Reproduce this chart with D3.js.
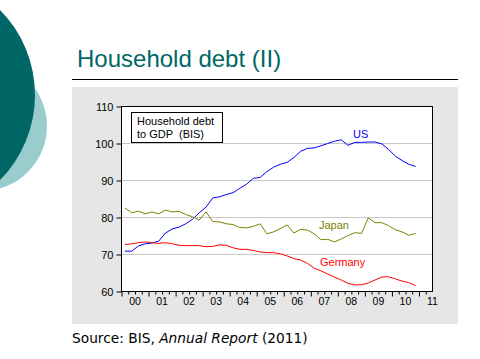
<!DOCTYPE html>
<html>
<head>
<meta charset="utf-8">
<script src="https://cdn.jsdelivr.net/npm/d3@7"></script>
<style>
  html, body { margin: 0; padding: 0; background: #ffffff; }
  svg { display: block; }
</style>
</head>
<body>
<svg id="chart" width="480" height="359"></svg>
<script>
// ---------------- DATA ----------------
const quarters = [
  "2000Q1","2000Q2","2000Q3","2000Q4","2001Q1","2001Q2","2001Q3","2001Q4",
  "2002Q1","2002Q2","2002Q3","2002Q4","2003Q1","2003Q2","2003Q3","2003Q4",
  "2004Q1","2004Q2","2004Q3","2004Q4","2005Q1","2005Q2","2005Q3","2005Q4",
  "2006Q1","2006Q2","2006Q3","2006Q4","2007Q1","2007Q2","2007Q3","2007Q4",
  "2008Q1","2008Q2","2008Q3","2008Q4","2009Q1","2009Q2","2009Q3","2009Q4",
  "2010Q1","2010Q2","2010Q3","2010Q4"
];
const usValues = [
  70.9, 70.9, 72.3, 72.9, 73.1, 73.6, 75.8, 76.9, 77.4, 78.3, 79.5, 81.3,
  82.8, 85.3, 85.6, 86.2, 86.7, 87.9, 89.0, 90.6, 90.8, 92.4, 93.6, 94.4,
  94.9, 96.2, 97.9, 98.7, 98.8, 99.4, 100.0, 100.6, 101.0, 99.5, 100.3, 100.3,
  100.4, 100.4, 99.9, 98.4, 96.6, 95.4, 94.4, 93.8
];
const japanValues = [
  82.6, 81.3, 81.7, 81.0, 81.5, 81.0, 82.0, 81.5, 81.7, 80.8, 80.2, 79.3,
  81.5, 78.9, 78.8, 78.3, 78.1, 77.3, 77.2, 77.6, 78.3, 75.6, 76.1, 77.0,
  78.0, 75.8, 76.8, 76.6, 75.6, 74.0, 74.1, 73.4, 74.2, 75.1, 75.9, 75.7,
  79.9, 78.6, 78.6, 77.8, 76.7, 76.1, 75.2, 75.7
];
const germanyValues = [
  72.7, 72.9, 73.2, 73.4, 73.2, 73.0, 73.2, 72.9, 72.5, 72.4, 72.4, 72.4,
  72.1, 72.2, 72.6, 72.5, 71.8, 71.4, 71.4, 71.1, 70.7, 70.5, 70.5, 70.2,
  69.6, 68.9, 68.5, 67.6, 66.3, 65.6, 64.7, 63.9, 63.1, 62.2, 61.8, 61.8,
  62.3, 63.1, 63.9, 64.0, 63.4, 62.8, 62.4, 61.6
];
const yTicks = [60, 70, 80, 90, 100, 110];
const yearLabels = ["00","01","02","03","04","05","06","07","08","09","10","11"];
const years = [2000,2001,2002,2003,2004,2005,2006,2007,2008,2009,2010,2011];
const seriesNames = ["US", "Japan", "Germany"];
const titleText = "Household debt (II)";
const legendLines = ["Household debt", "to GDP  (BIS)"];

// ---------------- LAYOUT ----------------
const svg = d3.select("#chart");
const teal = "#006666";
const FONT = "'Liberation Sans', Arial, sans-serif";

// decoration circles
svg.append("circle").attr("cx", -18).attr("cy", 126).attr("r", 65).attr("fill", "#99cccc");
svg.append("circle").attr("cx", -86).attr("cy", 95).attr("r", 121).attr("fill", teal);

// title
svg.append("text").attr("x", 77).attr("y", 67)
  .attr("font-family", FONT).attr("font-size", 24).attr("fill", teal)
  .text(titleText);
svg.append("line").attr("x1", 72).attr("x2", 458).attr("y1", 79.5).attr("y2", 79.5)
  .attr("stroke", "#000").attr("stroke-width", 1);

// gray panel
svg.append("rect").attr("x", 72).attr("y", 87).attr("width", 386).attr("height", 237)
  .attr("fill", "#e6e6e6");

// scales
const x = d3.scaleLinear().domain([2000, 2011.5]).range([121.5, 432.5]);
const y = d3.scaleLinear().domain([60, 110]).range([291.5, 106.5]);
const tOf = q => +q.slice(0, 4) + (+q.slice(5) - 0.5) / 4;

// plot background
svg.append("rect").attr("x", x(2000)).attr("y", y(110))
  .attr("width", x(2011.5) - x(2000)).attr("height", y(60) - y(110))
  .attr("fill", "#fff");

// grid
svg.append("g").selectAll("line").data(yTicks.filter(v => v > 60 && v < 110)).join("line")
  .attr("x1", x(2000)).attr("x2", x(2011.5))
  .attr("y1", d => y(d)).attr("y2", d => y(d))
  .attr("stroke", "#c8c8c8").attr("stroke-width", 1);

// lines
const line = d3.line().x((d, i) => x(tOf(quarters[i]))).y(d => y(d));
const series = [
  { name: seriesNames[0], values: usValues, color: "#0000ff", lx: 2008.56, ly: 101.6 },
  { name: seriesNames[1], values: japanValues, color: "#808000", lx: 2007.30, ly: 76.8 },
  { name: seriesNames[2], values: germanyValues, color: "#ff0000", lx: 2007.34, ly: 66.8 }
];
series.forEach(s => {
  svg.append("path").datum(s.values).attr("d", line)
    .attr("fill", "none").attr("stroke", s.color).attr("stroke-width", 1);
  svg.append("text").attr("x", x(s.lx)).attr("y", y(s.ly))
    .attr("font-family", FONT).attr("font-size", 11).attr("fill", s.color)
    .text(s.name);
});

// frame
svg.append("rect").attr("x", x(2000)).attr("y", y(110))
  .attr("width", x(2011.5) - x(2000)).attr("height", y(60) - y(110))
  .attr("fill", "none").attr("stroke", "#000").attr("stroke-width", 1);

// y axis
const yAxis = svg.append("g").attr("transform", `translate(${x(2000)},0)`)
  .call(d3.axisLeft(y).tickValues(yTicks).tickSize(5).tickPadding(3).tickFormat(d3.format("d")));
yAxis.select(".domain").remove();
yAxis.selectAll("text").attr("font-family", FONT).attr("font-size", 11).attr("fill", "#000");
yAxis.selectAll("line").attr("stroke", "#000");

// x axis: minor quarter ticks and major year ticks
const quarterTicks = [];
years.forEach(yr => { [0.25, 0.5, 0.75].forEach(f => { if (yr + f < 2011.5) quarterTicks.push(yr + f); }); });
const xMinor = svg.append("g").attr("transform", `translate(0,${y(60)})`)
  .call(d3.axisBottom(x).tickValues(quarterTicks).tickSize(3).tickFormat(""));
xMinor.select(".domain").remove();
xMinor.selectAll("line").attr("stroke", "#000");
const xMajor = svg.append("g").attr("transform", `translate(0,${y(60)})`)
  .call(d3.axisBottom(x).tickValues(years).tickSize(5).tickFormat(""));
xMajor.select(".domain").remove();
xMajor.selectAll("line").attr("stroke", "#000");

svg.append("g").selectAll("text").data(years).join("text")
  .attr("x", d => d + 0.5 <= 2011.5 ? x(d + 0.5) : x(2011.5) - 1)
  .attr("text-anchor", d => d + 0.5 <= 2011.5 ? "middle" : "end")
  .attr("y", 305)
  .attr("font-family", FONT).attr("font-size", 10.5).attr("fill", "#000")
  .text((d, i) => yearLabels[i]);

// legend box
svg.append("rect").attr("x", 131.5).attr("y", 112.5).attr("width", 91).attr("height", 30)
  .attr("fill", "#fff").attr("stroke", "#000").attr("stroke-width", 1);
svg.append("g").selectAll("text").data(legendLines).join("text")
  .attr("x", 137).attr("y", (d, i) => 124.5 + i * 13)
  .attr("font-family", FONT).attr("font-size", 11).attr("fill", "#000")
  .style("white-space", "pre")
  .text(d => d);

// source
const src = svg.append("text").attr("x", 72).attr("y", 343)
  .attr("font-family", "DejaVu Sans, Verdana, sans-serif").attr("font-size", 12).attr("fill", "#000");
src.append("tspan").text("Source: BIS, ");
src.append("tspan").attr("font-style", "italic").text("Annual Report");
src.append("tspan").text(" (2011)");
// fit the source line to the reference width (~236px)
const w = src.node().getComputedTextLength();
if (w > 0 && Math.abs(w - 236) > 4) {
  src.attr("font-size", 12 * 236 / w);
}
</script>
</body>
</html>
